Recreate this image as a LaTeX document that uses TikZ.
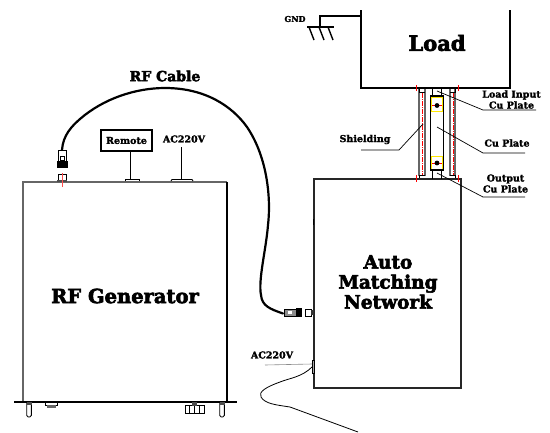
\documentclass[tikz,border=0pt]{standalone}
\usepackage{fontspec}
\newfontfamily\heavy{DejaVu Serif Bold}[FakeBold=3]
\newfontfamily\lab{DejaVu Serif Bold}[FakeBold=1.6]
\setmainfont{DejaVu Serif}
\tikzset{
  wall/.style={draw=black,line width=1.3pt},
  thin wall/.style={draw=black,line width=.9pt},
  lead/.style={draw=black,line width=.7pt},
  redtick/.style={draw=red,line width=1pt},
  reddash/.style={draw=red,line width=.9pt,dash pattern=on 5pt off 1pt on 1pt off 1pt},
  gray wall/.style={draw=black!60,line width=1.1pt},
  cable/.style={draw=black,line width=2.2pt,line cap=round},
  biglabel/.style={inner sep=0,font=\fontsize{19.5}{22}\heavy},
  smalllabel/.style={inner sep=0,font=\fontsize{9.5}{11}\lab},
  cablelabel/.style={inner sep=0,font=\fontsize{14}{15}\heavy}
}
\begin{document}
\begin{tikzpicture}[x=1pt,y=-1pt]
\useasboundingbox[fill=white] (0,0) rectangle (550,432);
% RF generator
\draw[gray wall] (23,401) -- (23,182) -- (227,182);
\draw[wall] (227,182) -- (227,401);
\draw[draw=black,line width=2pt] (14,401.5) -- (237,401.5);
\foreach \x in {29,222}{
  \draw[thin wall,rounded corners=1.5pt] (\x-2.3,403) -- (\x-2.3,417) -- (\x+2.3,417) -- (\x+2.3,403);
  \fill[black!70] (\x-2.5,402) rectangle (\x+2.5,405);
}
\draw[thin wall] (45.5,402) -- (45.5,405) -- (57.5,405) -- (57.5,402);
\fill[black!60] (47,405) rectangle (56,408);
\draw[thin wall] (185,405.5) rectangle (204,413);
\foreach \x in {189.5,194,199}{\draw[thin wall] (\x,405.5) -- (\x,413);}
\fill[black!70] (192,402) rectangle (197,405.5);
\node[biglabel] (gen) at (125,296) {RF Generator};
% Remote and AC
\node[draw=black,line width=1.2pt,minimum width=51pt,minimum height=21pt,inner sep=0,font=\fontsize{9.5}{11}\lab] (remote) at (126.5,140.5) {Remote};
\coordinate (remotepad) at (130,180);
\draw[thin wall] (remote.south -| remotepad) -- (remotepad);
\draw[thin wall,fill=white] (125,181) -- (125,179) -- (139,179) -- (139,181);
\node[smalllabel] (ac1) at (184,139) {AC220V};
\coordinate (acpad) at (181.5,180);
\draw[thin wall] (181.5,147) -- (acpad);
\draw[thin wall] (171,181) -- (172,179.5) -- (192,179.5) -- (193,181);
% RF jack on generator
\draw[thin wall,fill=white] (58.5,174) rectangle (66,180);
\fill[black!70] (57,180) rectangle (67,182);
\draw[redtick,draw=red!70] (62,173) -- (62,187);
% Cable plug
\draw[thin wall,fill=white] (58,150) rectangle (66.5,167);
\draw[thin wall] (60,156) rectangle (64.5,160);
\fill[black] (57,161) rectangle (67.5,168);
\coordinate (plugA) at (62,150);
\coordinate (plugB) at (283,313.5);
\draw[cable] (plugA) .. controls (63,135) and (72,126) .. (80,119)
  .. controls (103,99) and (135,88) .. (165,88)
  .. controls (205,88) and (232,106) .. (247,127)
  .. controls (268,158) and (271,200) .. (268,225)
  .. controls (266,250) and (258,280) .. (261,295)
  .. controls (262,306) and (270,309) .. (plugB);
% AMN box
\draw[wall,draw=black!85] (314,388) -- (314,179) -- (461,179) -- (461,388) -- cycle;
\node[align=center,inner sep=0,font=\fontsize{18.5}{20}\heavy] (amn) at (388,282) {Auto\\Matching\\Network};
\draw[thin wall,fill=black!45] (284,309) rectangle (296,316);
\fill[white] (288,311) rectangle (292,314);
\fill[black] (296,308) rectangle (302,316.5);
\draw[thin wall,fill=white] (305.5,309) rectangle (311,316);
\fill[black!80] (311,310) rectangle (314,315);
\fill[black] (312.5,219) rectangle (314,225);
% AC plug on AMN
\draw[thin wall,fill=black!35] (312,360) rectangle (314.5,373.5);
\node[smalllabel] (ac2) at (272,355) {AC220V};
\draw[draw=black!45,line width=.6pt] (265,365) -- (312,364);
\coordinate (wirestart) at (312,367);
\coordinate (wireend) at (358,432);
\draw[draw=black,line width=.8pt] (wirestart) .. controls (302,377) and (290,378) .. (280,382)
  .. controls (266,387) and (258,392) .. (261,397)
  .. controls (265,404) and (277,405) .. (290,407) -- (wireend);
% Load
\draw[wall] (361,10) -- (361,88) -- (510,88) -- (510,10);
\node[inner sep=0,font=\fontsize{21}{24}\heavy] (load) at (437,43) {Load};
% GND
\coordinate (g1) at (320,16);
\coordinate (g2) at (320,27);
\draw[draw=black,line width=1.5pt] (361,16) -- (g1) -- (g2);
\draw[draw=black,line width=1.5pt] (307,27) -- (334,27);
\foreach \x in {309,319,328}{\draw[draw=black,line width=1.4pt] (\x,27) -- (\x+5,40);}
\node[inner sep=0,font=\fontsize{8}{10}\lab] (gnd) at (295,19) {GND};
% Shielding
\foreach \a/\b in {419/425,450/455}{
  \draw[gray wall] (\a,89) -- (\a,176);
  \draw[gray wall] (\b,89) -- (\b,176);
}
\draw[thin wall] (419,89) -- (419,92) -- (425,92);
\draw[thin wall] (419,178) -- (419,175) -- (425,175);
\draw[thin wall] (450,92) -- (455,92) -- (455,89);
\draw[thin wall] (450,175) -- (455,175) -- (455,178);
\draw[reddash] (422,93) -- (422,175);
\draw[reddash] (453,93) -- (453,175);
\foreach \x in {416.5,458}{
  \draw[redtick] (\x,85) -- (\x,91);
  \draw[redtick] (\x,175) -- (\x,182);
}
% Cu plate
\draw[thin wall] (432.5,88) -- (432.5,96);
\draw[thin wall] (441.5,88) -- (441.5,96);
\draw[thin wall] (432.5,170) -- (432.5,179);
\draw[thin wall] (441.5,170) -- (441.5,179);
\draw[draw=yellow!90!orange,line width=.9pt] (431,97) rectangle (442,111.5);
\draw[draw=yellow!90!orange,line width=.9pt] (431,156) rectangle (442,170.5);
\draw[wall] (430.5,96) rectangle (443.5,170);
\foreach \y in {105.5,163}{
  \draw[redtick,line width=.7pt] (432,\y) -- (442,\y);
  \fill[black] (437,\y) circle (2.4pt);
}
% Leaders
\node[smalllabel,align=center] (li) at (511.5,99.5) {Load Input\\Cu Plate};
\node[smalllabel,anchor=center] (cu) at (507,143) {Cu Plate};
\node[smalllabel,align=center] (op) at (505.5,183.5) {Output\\Cu Plate};
\node[smalllabel] (sh) at (365,139.5) {Shielding};
\coordinate (l1) at (437,91); \coordinate (l1b) at (483,110); \coordinate (l1c) at (536,110);
\coordinate (l2) at (437,127); \coordinate (l2b) at (483,153); \coordinate (l2c) at (525,153);
\coordinate (l3) at (437,173); \coordinate (l3b) at (483,197); \coordinate (l3c) at (525,197);
\coordinate (l4) at (423,124); \coordinate (l4b) at (399,150); \coordinate (l4c) at (361,150);
\draw[lead] (l1) -- (l1b) -- (l1c);
\draw[lead] (l2) -- (l2b) -- (l2c);
\draw[lead] (l3) -- (l3b) -- (l3c);
\draw[lead] (l4) -- (l4b) -- (l4c);
% RF cable label
\node[cablelabel] (rf) at (165,76) {RF Cable};
\end{tikzpicture}
\end{document}
